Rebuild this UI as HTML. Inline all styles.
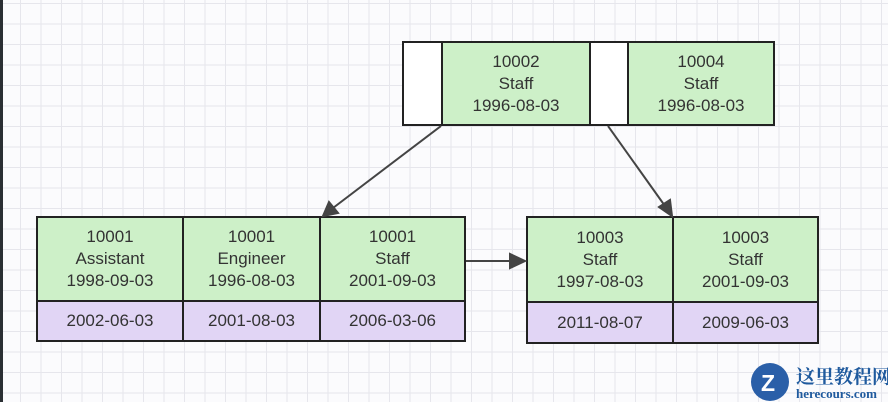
<!DOCTYPE html>
<html><head><meta charset="utf-8"><style>
body{margin:0;width:888px;height:402px;overflow:hidden;font-family:"Liberation Sans",sans-serif;
background-color:#fbfbfd;
background-image:linear-gradient(to right,#e6e6ec 1px,transparent 1px),linear-gradient(to bottom,#e6e6ec 1px,transparent 1px);
background-size:20.5px 20.5px;background-position:20px 3px;position:relative}
.edge{position:absolute;left:0;top:0;width:3px;height:402px;background:#2a2f33}
.c{position:absolute;box-sizing:border-box;border:2px solid #222;display:flex;align-items:center;justify-content:center;text-align:center;font-size:17px;line-height:22px;color:#333}
.g{background:#cdf0c8}.w{background:#fff}.p{background:#e1d5f5}
</style></head><body>
<div class="edge"></div>
<div class="c w" style="left:402px;top:41px;width:41px;height:85px"></div>
<div class="c g" style="left:441px;top:41px;width:150px;height:85px">10002<br>Staff<br>1996-08-03</div>
<div class="c w" style="left:589px;top:41px;width:40px;height:85px"></div>
<div class="c g" style="left:627px;top:41px;width:148px;height:85px">10004<br>Staff<br>1996-08-03</div>

<div class="c g" style="left:36px;top:216px;width:148px;height:86px">10001<br>Assistant<br>1998-09-03</div>
<div class="c g" style="left:182px;top:216px;width:139px;height:86px">10001<br>Engineer<br>1996-08-03</div>
<div class="c g" style="left:319px;top:216px;width:147px;height:86px">10001<br>Staff<br>2001-09-03</div>
<div class="c p" style="left:36px;top:300px;width:148px;height:42px">2002-06-03</div>
<div class="c p" style="left:182px;top:300px;width:139px;height:42px">2001-08-03</div>
<div class="c p" style="left:319px;top:300px;width:147px;height:42px">2006-03-06</div>

<div class="c g" style="left:526px;top:216px;width:148px;height:87px">10003<br>Staff<br>1997-08-03</div>
<div class="c g" style="left:672px;top:216px;width:147px;height:87px">10003<br>Staff<br>2001-09-03</div>
<div class="c p" style="left:526px;top:301px;width:148px;height:43px">2011-08-07</div>
<div class="c p" style="left:672px;top:301px;width:147px;height:43px">2009-06-03</div>

<svg width="888" height="402" style="position:absolute;left:0;top:0">
<g stroke="#444" stroke-width="2" fill="#444">
<line x1="441" y1="126" x2="333" y2="208"/><polygon points="323,216 329,202 338,213"/>
<line x1="608" y1="126" x2="665" y2="206"/><polygon points="672,216 659,207 670,200"/>
<line x1="466" y1="261" x2="512" y2="261"/><polygon points="525,261 510,254 510,268"/>
</g>
<text x="796" y="383" font-family="Noto Serif CJK SC,serif" font-size="19" font-weight="bold" fill="#1f5a9e">这里教程网</text>
<text x="796" y="398" font-family="Liberation Serif,serif" font-size="13" font-weight="bold" fill="#1f5a9e">herecours.com</text>
<circle cx="770" cy="382" r="19" fill="#2a5fa8"/>
<text x="761" y="391" font-family="Liberation Sans" font-size="23" font-weight="bold" fill="#fff">Z</text>
</svg>
</body></html>
